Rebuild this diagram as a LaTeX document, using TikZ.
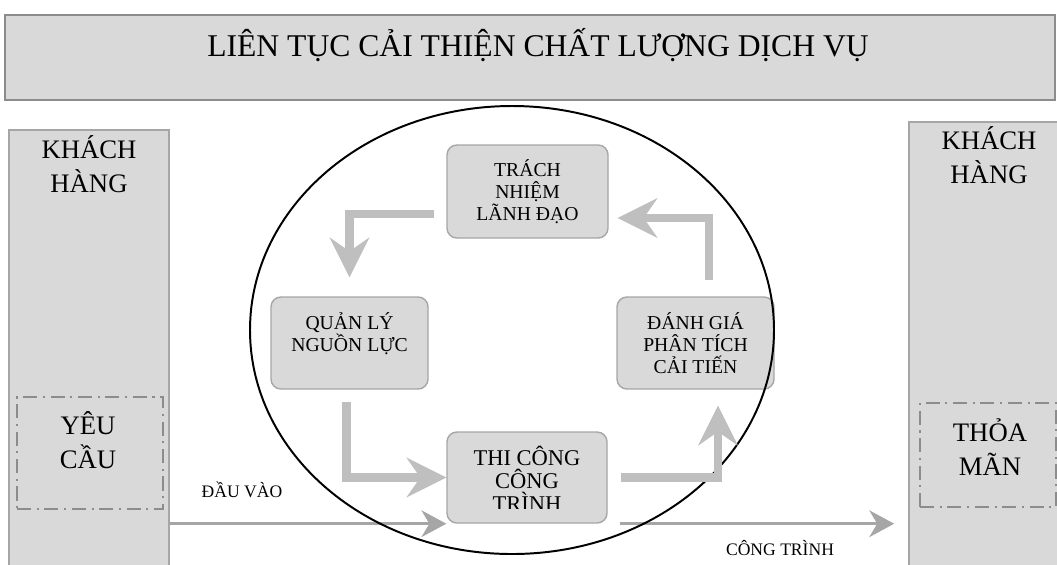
\documentclass[tikz,border=0pt]{standalone}
\usepackage{fontspec}
\setmainfont{Liberation Serif}
\usetikzlibrary{arrows.meta,calc,positioning,shapes.geometric}

\definecolor{panelfill}{HTML}{D9D9D9}
\definecolor{panelline}{HTML}{A6A6A6}
\definecolor{flowgray}{HTML}{BFBFBF}
\definecolor{dashgray}{HTML}{8C8C8C}

\begin{document}
\begin{tikzpicture}[
    panel/.style={rectangle, fill=panelfill, draw=panelline, line width=1.2pt, inner sep=0pt},
    stagebox/.style={rectangle, rounded corners=7pt, fill=panelfill, draw=panelline, line width=1pt,
        align=center, inner sep=0pt, minimum height=2.3cm, font=\fontsize{14}{15.5}\selectfont},
    frame/.style={rectangle, draw=dashgray, line width=1pt, dash pattern=on 10pt off 4pt on 1.5pt off 4pt, inner sep=0pt},
    bigtext/.style={align=center, font=\fontsize{19}{24}\selectfont},
    bigflow/.style={draw=flowgray, line width=0.21cm, -{Stealth[length=1cm,width=1cm,inset=0.35cm,line width=0pt]}},
    thinflow/.style={draw=panelline, line width=2.1pt, -{Stealth[length=0.625cm,width=0.675cm,inset=0.2cm,line width=0pt]}},
    flowlabel/.style={anchor=base, font=\fontsize{12.5}{14}\selectfont}
]
    \useasboundingbox (0,0) rectangle (26.425,-14.1);

    % Banner
    \node[panel, draw=dashgray, line width=1.5pt, minimum width=26.25cm, minimum height=2.125cm] (banner) at (13.25,-1.4375) {};
    \node[anchor=base, font=\fontsize{22.5}{27}\selectfont] (bannertext) at (13.45,-1.4) {LIÊN TỤC CẢI THIỆN CHẤT LƯỢNG DỊCH VỤ};

    % Customer columns (base = last line)
    \node[panel, minimum width=4cm, minimum height=11cm] (custL) at (2.225,-8.75) {};
    \node[bigtext, anchor=base] (custLtext) at (2.225,-4.8) {KHÁCH\\HÀNG};
    \node[frame, minimum width=3.65cm, minimum height=2.8cm] (needbox) at (2.25,-11.325) {};
    \node[bigtext, anchor=base] (needtext) at (2.2,-11.7) {YÊU\\CẦU};

    \node[panel, minimum width=4.025cm, minimum height=11.2cm] (custR) at (24.7375,-8.65) {};
    \node[bigtext, anchor=base] (custRtext) at (24.725,-4.575) {KHÁCH\\HÀNG};
    \node[frame, minimum width=3.4cm, minimum height=2.6cm] (okbox) at (24.7,-11.375) {};
    \node[bigtext, anchor=base] (oktext) at (24.75,-11.875) {THỎA\\MÃN};

    % Stages of the loop
    \node[stagebox, minimum width=4.025cm, minimum height=2.325cm] (lead) at (13.1875,-4.7875) {TRÁCH\\NHIỆM\\LÃNH ĐẠO};
    \node[stagebox, minimum width=3.925cm] (res) at (8.7375,-8.575) {QUẢN LÝ\\NGUỒN LỰC\\\mbox{}};
    \node[stagebox, minimum width=3.925cm] (eval) at (17.3875,-8.575) {ĐÁNH GIÁ\\PHÂN TÍCH\\CẢI TIẾN};
    \node[stagebox, minimum width=4cm, minimum height=2.275cm] (build) at (13.175,-11.9375) {};
    \begin{scope}
        \clip (build.north west) rectangle ([yshift=0.375cm]build.south east);
        \node[anchor=base, align=center, font=\fontsize{16}{16.5}\selectfont] (buildtext) at (13.175,-12.785) {THI CÔNG\\CÔNG\\TRÌNH};
    \end{scope}

    % Input and output
    \draw[thinflow] (custL.east |- build.south west) -- (build.south west);
    \draw[thinflow, shorten <=0.3cm, shorten >=0.35cm] (build.south east) -- (custR.west |- build.south east);
    \node[flowlabel] (inlabel) at (6.05,-12.425) {ĐẦU VÀO};
    \node[flowlabel] (outlabel) at (19.5,-13.875) {CÔNG TRÌNH};

    % Ellipse round the loop
    \node[ellipse, draw, line width=1.4pt, minimum width=13.1cm, minimum height=11.2cm] (loop) at (12.8,-8.25) {};

    % Loop arrows
    \draw[bigflow, shorten <=0.3cm, shorten >=0.475cm] ([yshift=-0.5625cm]lead.west) -| (res.north);
    \draw[bigflow, shorten <=0.3cm] ([xshift=-0.075cm]res.south) |- (build.west);
    \draw[bigflow, shorten <=0.325cm, shorten >=0.4cm] (build.east) -| ([xshift=0.5625cm]eval.south);
    \draw[bigflow, shorten <=0.4cm, shorten >=0.225cm] ([xshift=0.3375cm]eval.north) |- ([yshift=-0.6625cm]lead.east);
\end{tikzpicture}
\end{document}
